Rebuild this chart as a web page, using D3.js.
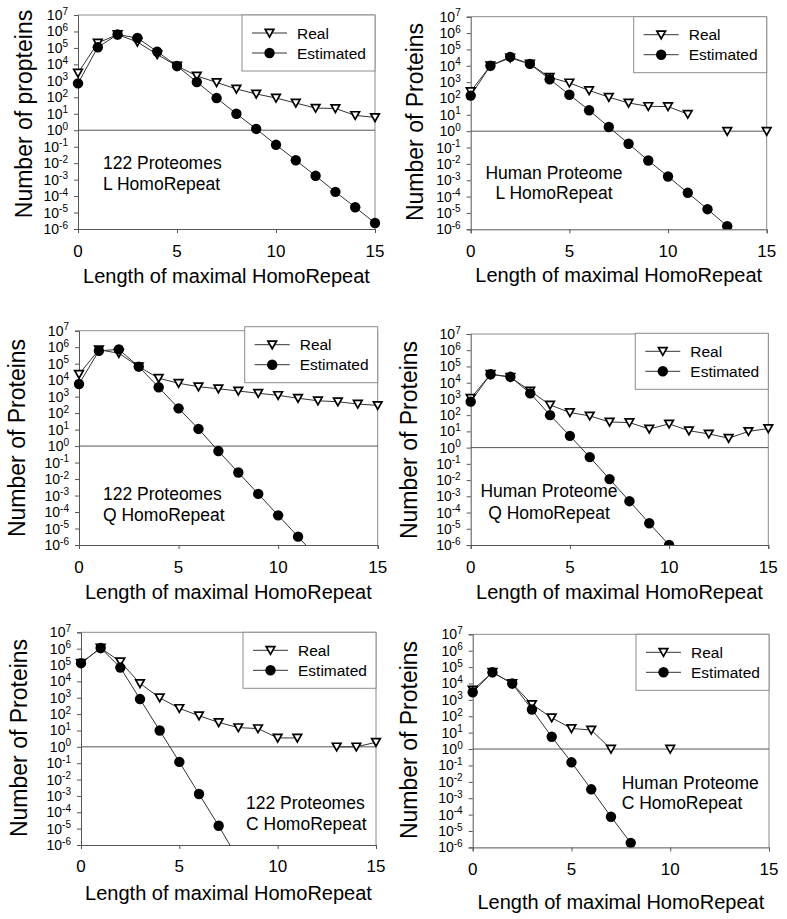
<!DOCTYPE html>
<html><head><meta charset="utf-8">
<script src="https://cdn.jsdelivr.net/npm/d3@7"></script>
<style>
html,body{margin:0;padding:0;background:#fff;}
text{font-family:"Liberation Sans",Arial,sans-serif;fill:#000;}
</style></head>
<body>
<svg id="chart" width="787" height="919"></svg>
<script>
// ---------- DATA ----------
const xValues = [0,1,2,3,4,5,6,7,8,9,10,11,12,13,14,15];
const xTicks = [0,5,10,15];
const yExponents = [7,6,5,4,3,2,1,0,-1,-2,-3,-4,-5,-6];
const seriesNames = ["Real","Estimated"];
const yTitles = ["Number of propteins","Number of Proteins","Number of Proteins","Number of Proteins","Number of Proteins","Number of Proteins"];
const xTitle = "Length of maximal HomoRepeat";
const notes = [["122 Proteomes","L HomoRepeat"],["Human Proteome","L HomoRepeat"],["122 Proteomes","Q HomoRepeat"],["Human Proteome","Q HomoRepeat"],["122 Proteomes","C HomoRepeat"],["Human Proteome","C HomoRepeat"]];

const realL122   = [3000,2e5,6.5e5,2.3e5,4e4,8e3,2e3,800,320,160,90,45,22,21,8,6];
const estL122    = [700,1.1e5,6.5e5,4e5,6e4,8e3,850,90,10,1.2,0.13,0.015,1.7e-3,1.8e-4,2.1e-5,2.3e-6];
const realLHuman = [270,1e4,3e4,1.3e4,2e3,900,310,120,53,33,32,11,null,1,null,1];
const estLHuman  = [150,1e4,3.5e4,1.3e4,1.5e3,170,19,1.8,0.17,0.016,1.7e-3,1.7e-4,1.7e-5,1.55e-6,null,null];
const realQ122   = [2.3e4,7e5,4.3e5,6.6e4,1.3e4,6.5e3,4e3,3e3,2.2e3,1.6e3,1.2e3,800,560,490,355,295];
const estQ122    = [5.8e3,6e5,7.4e5,6.6e4,3.7e3,195,11,0.5,0.025,1.26e-3,6.3e-5,3.2e-6,1.6e-7,null,null,null];
const realQHuman = [1.1e3,3.3e4,2.2e4,3.1e3,425,145,90,38,35,14,29,11,7,3.8,10,15];
const estQHuman  = [680,3.3e4,2.3e4,2.2e3,100,5.3,0.26,0.0115,5e-4,2.2e-5,1e-6,null,null,null,null,null];
const realC122   = [1.3e5,1.1e6,1.6e5,7.5e3,1e3,225,80,31,15,13,3.5,3.5,null,1,1,1.9];
const estC122    = [1.3e5,1.1e6,7e4,830,10,0.12,1.3e-3,1.5e-5,1.3e-7,null,null,null,null,null,null,null];
const realCHuman = [4e3,4.8e4,1e4,530,81,18,14.5,1,null,null,1,null,null,null,null,null];
const estCHuman  = [2.9e3,4.8e4,1e4,260,5.6,0.155,3.5e-3,7.4e-5,1.9e-6,null,null,null,null,null,null,null];

const panelData = [
  [realL122,estL122],[realLHuman,estLHuman],
  [realQ122,estQ122],[realQHuman,estQHuman],
  [realC122,estC122],[realCHuman,estCHuman]
];

// ---------- LAYOUT ----------
const layout = [
  {l:78,  r:375,   t:15,    b:229,   ytx:32,  yty:114, xtb:256.7, xtt:282.7, legT:15,    note:{x:103, a:"start", y:[169.3,190]}},
  {l:470.7,r:766.7,t:16.7,  b:229.3, ytx:423, yty:122, xtb:256.7, xtt:281.7, legT:16.7,  note:{x:554, a:"middle", y:[179.3,199.3]}},
  {l:79,  r:377.7, t:330.7, b:545,   ytx:25,  yty:438, xtb:573,   xtt:599,   legT:326.7, note:{x:103, a:"start", y:[500,521]}},
  {l:470.7,r:768.3,t:334,   b:545,   ytx:417, yty:440, xtb:573,   xtt:599,   legT:333.3, note:{x:549, a:"middle", y:[497,519]}},
  {l:81,  r:376,   t:632.3, b:845,   ytx:27,  yty:738, xtb:871.7, xtt:900,   legT:632.3, note:{x:246, a:"start", y:[809.3,830]}},
  {l:472.7,r:769,  t:634.3, b:847.4, ytx:417, yty:740, xtb:875,   xtt:909,   legT:634.3, note:{x:621.7, a:"start", y:[789.3,809.3]}}
];

const svg = d3.select("#chart");
const defs = svg.append("defs");
const triPath = "M-4.3,-3.6L4.3,-3.6L0,4Z";
const axisGray = "#8c8c8c";

function drawMarker(g, kind, x, y){
  if(kind===0){
    g.append("path").attr("d",triPath).attr("transform",`translate(${x},${y})`)
      .attr("fill","#fff").attr("stroke","#000").attr("stroke-width",1.7).attr("stroke-linejoin","miter");
  } else {
    g.append("circle").attr("cx",x).attr("cy",y).attr("r",5.2).attr("fill","#000");
  }
}

layout.forEach((L,i)=>{
  const g = svg.append("g");
  const x = d3.scaleLinear().domain([0,15]).range([L.l,L.r]);
  const y = d3.scaleLog().domain([1e-6,1e7]).range([L.b,L.t]);

  defs.append("clipPath").attr("id","clip"+i).append("rect")
    .attr("x",L.l-6).attr("y",L.t-6).attr("width",L.r-L.l+12).attr("height",L.b-L.t+6);

  g.append("line").attr("x1",L.l).attr("x2",L.r).attr("y1",L.t).attr("y2",L.t).attr("stroke",axisGray).attr("stroke-width",1);
  g.append("line").attr("x1",L.r).attr("x2",L.r).attr("y1",L.t).attr("y2",L.b).attr("stroke",axisGray).attr("stroke-width",1);

  const yAxis = d3.axisLeft(y).tickValues(yExponents.map(e=>Math.pow(10,e))).tickSize(4).tickFormat("");
  const ya = g.append("g").attr("transform",`translate(${L.l},0)`).call(yAxis);
  ya.select(".domain").attr("stroke","#555");
  ya.selectAll(".tick line").attr("stroke","#555");

  const xAxis = d3.axisBottom(x).tickValues(xTicks).tickSize(4).tickFormat("");
  const xa = g.append("g").attr("transform",`translate(0,${L.b})`).call(xAxis);
  xa.select(".domain").attr("stroke","#555");
  xa.selectAll(".tick line").attr("stroke","#555");

  g.append("line").attr("x1",L.l).attr("x2",L.r).attr("y1",y(1)).attr("y2",y(1)).attr("stroke","#555").attr("stroke-width",1);

  yExponents.forEach(e=>{
    const t = g.append("text").attr("x",L.l-10).attr("y",y(Math.pow(10,e))+5)
      .attr("text-anchor","end").style("font-size","14px");
    t.append("tspan").text("10");
    t.append("tspan").attr("dy",-5.5).style("font-size","10px").text(String(e));
  });

  xTicks.forEach(v=>{
    g.append("text").attr("x",x(v)).attr("y",L.xtb).attr("text-anchor","middle")
      .style("font-size","17px").text(v);
  });

  g.append("text").attr("x",(L.l+L.r)/2).attr("y",L.xtt).attr("text-anchor","middle")
    .style("font-size","20px").text(xTitle);
  g.append("text").attr("transform",`translate(${L.ytx},${L.yty}) rotate(-90)`)
    .attr("text-anchor","middle").style("font-size","23px").text(yTitles[i]);

  notes[i].forEach((s,k)=>{
    g.append("text").attr("x",L.note.x).attr("y",L.note.y[k]).attr("text-anchor",L.note.a)
      .style("font-size","17.5px").text(s);
  });

  const lw=133, lh=56, lx=L.r-lw, ly=L.legT;
  g.append("rect").attr("x",lx).attr("y",ly).attr("width",lw).attr("height",lh)
    .attr("fill","#fff").attr("stroke",axisGray).attr("stroke-width",1);
  seriesNames.forEach((nm,k)=>{
    const ry = ly+18+k*20;
    g.append("line").attr("x1",lx+10).attr("x2",lx+45).attr("y1",ry).attr("y2",ry).attr("stroke","#333").attr("stroke-width",1);
    drawMarker(g,k,lx+27.5,ry);
    g.append("text").attr("x",lx+55).attr("y",ry+5.5).style("font-size","15.5px").text(nm);
  });

  const pg = g.append("g").attr("clip-path",`url(#clip${i})`);
  panelData[i].forEach((vals,k)=>{
    const pts = xValues.map((xv,j)=>({x:xv,v:vals[j]}));
    const line = d3.line().defined(d=>d.v!=null).x(d=>x(d.x)).y(d=>y(d.v));
    pg.append("path").attr("d",line(pts)).attr("fill","none").attr("stroke","#333").attr("stroke-width",1);
  });
  panelData[i].forEach((vals,k)=>{
    xValues.forEach((xv,j)=>{
      const v = vals[j];
      if(v==null || v<1e-6) return;
      drawMarker(pg,k,x(xv),y(v));
    });
  });
});
</script>
</body></html>
